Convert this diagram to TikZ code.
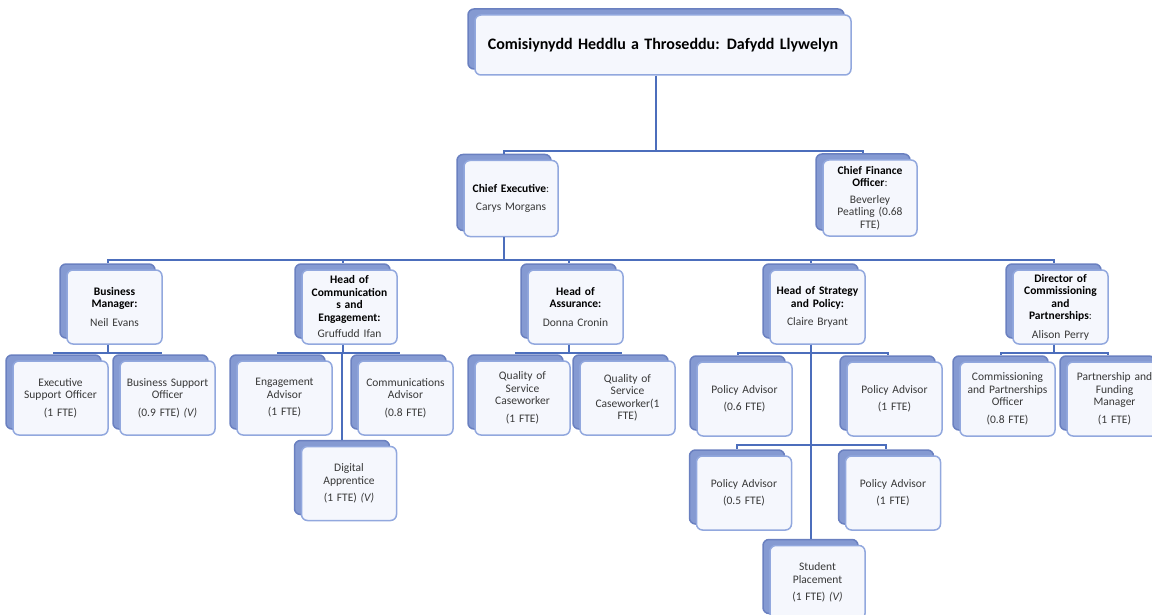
\documentclass[tikz,border=0pt]{standalone}
\usepackage{fontspec}
\setmainfont{Carlito}
\usetikzlibrary{shadows}

\definecolor{backfill}{RGB}{133,154,210}
\definecolor{backline}{RGB}{106,128,192}
\definecolor{cardfill}{RGB}{245,247,253}
\definecolor{cardline}{RGB}{146,168,222}
\definecolor{linkblue}{RGB}{76,110,188}
\definecolor{nametext}{RGB}{56,56,56}

\tikzset{
  card/.style={draw=cardline, fill=cardfill, line width=1.5pt, rounded corners=6pt,
    minimum width=95pt, minimum height=74pt, text width=90pt, inner sep=0pt,
    align=center, text=nametext, font=\fontsize{11.5}{12.5}\selectfont,
    copy shadow={shadow xshift=-7pt, shadow yshift=6pt, fill=backfill, draw=backline}},
  link/.style={draw=linkblue, line width=2pt},
}

\newcommand\rolehead[1]{{\color{black}\bfseries #1}}
% parent, child, drop to the bus line
\newcommand\orglink[3]{\draw[link] ([xshift=-7pt]#1.south) -- ++(0,#3) -| ([xshift=-7pt,yshift=6pt]#2.north);}

\begin{document}
\begin{tikzpicture}[x=1pt, y=-1pt]
  \useasboundingbox (0,0) rectangle (1152,615);

  % Comisiynydd
  \node[card, minimum width=376pt, minimum height=60pt, text width=370pt,
    font=\fontsize{16}{18}\selectfont\bfseries, text=black] (pcc) at (663,45)
    {Comisiynydd Heddlu a Throseddu:\hspace{0.45em}Dafydd Llywelyn};

  % level 1
  \node[card, minimum width=94pt, minimum height=76pt] (ce) at (511,198.5)
    {\rolehead{Chief Executive}:\\[5pt] Carys Morgans};
  \node[card, minimum width=94pt, minimum height=76pt] (cfo) at (870,198)
    {\rolehead{Chief Finance\\ Officer}:\\[4pt] Beverley\\ Peatling (0.68\\ FTE)};

  % level 2
  \node[card] (bm) at (114.5,307) {\rolehead{Business\\ Manager:}\\[6pt] Neil Evans};
  \node[card] (hce) at (349.5,307) {\rolehead{Head of\\ Communication\\ s and\\ Engagement:}\\[4pt] Gruffudd Ifan};
  \node[card] (ha) at (575.5,307) {\rolehead{Head of\\ Assurance:}\\[6pt] Donna Cronin};
  \node[card] (hsp) at (817.5,307) {\rolehead{Head of Strategy\\ and Policy:}\\[6pt] Claire Bryant};
  \node[card] (dcp) at (1060.5,307) {\rolehead{Director of\\ Commissioning\\ and\\ Partnerships}:\\[6pt] Alison Perry};

  % level 3
  \node[card] (eso) at (60.5,398) {Executive\\ Support Officer\\[5pt] (1 FTE)};
  \node[card] (bso) at (167.5,398) {Business Support\\ Officer\\[5pt] (0.9 FTE) \textit{(V)}};
  \node[card] (ea) at (284.5,398) {Engagement\\ Advisor\\[5pt] (1 FTE)};
  \node[card] (ca) at (405.5,398) {Communications\\ Advisor\\[5pt] (0.8 FTE)};
  \node[card] (qsc) at (522.5,398) {Quality of\\ Service\\ Caseworker\\[5pt] (1 FTE)};
  \node[card] (qscb) at (627.5,398) {Quality of\\ Service\\ Caseworker(1\\ FTE)};
  \node[card] (pasix) at (744.5,399) {Policy Advisor\\[5pt] (0.6 FTE)};
  \node[card] (paone) at (894.5,399) {Policy Advisor\\[5pt] (1 FTE)};
  \node[card] (cpo) at (1007.5,399) {Commissioning\\ and Partnerships\\ Officer\\[5pt] (0.8 FTE)};
  \node[card] (pfm) at (1114.5,399) {Partnership and\\ Funding\\ Manager\\[5pt] (1 FTE)};

  % level 4
  \node[card] (da) at (349,483.5) {Digital\\ Apprentice\\[5pt] (1 FTE) \textit{(V)}};
  \node[card] (pafive) at (744,493) {Policy Advisor\\[5pt] (0.5 FTE)};
  \node[card] (paoneb) at (893,493) {Policy Advisor\\[5pt] (1 FTE)};
  \node[card] (stu) at (817.5,582.5) {Student\\ Placement\\[5pt] (1 FTE) \textit{(V)}};

  % connectors
  \orglink{pcc}{ce}{75}
  \orglink{pcc}{cfo}{75}
  \foreach \kid in {bm,hce,ha,hsp,dcp}
    {\orglink{ce}{\kid}{22.5}}
  \orglink{bm}{eso}{8}
  \orglink{bm}{bso}{8}
  \orglink{hce}{ea}{8}
  \orglink{hce}{ca}{8}
  \orglink{hce}{da}{8}
  \orglink{ha}{qsc}{8}
  \orglink{ha}{qscb}{8}
  \orglink{hsp}{pasix}{8}
  \orglink{hsp}{paone}{8}
  \orglink{hsp}{pafive}{100}
  \orglink{hsp}{paoneb}{100}
  \orglink{hsp}{stu}{100}
  \orglink{dcp}{cpo}{8}
  \orglink{dcp}{pfm}{8}
\end{tikzpicture}
\end{document}
